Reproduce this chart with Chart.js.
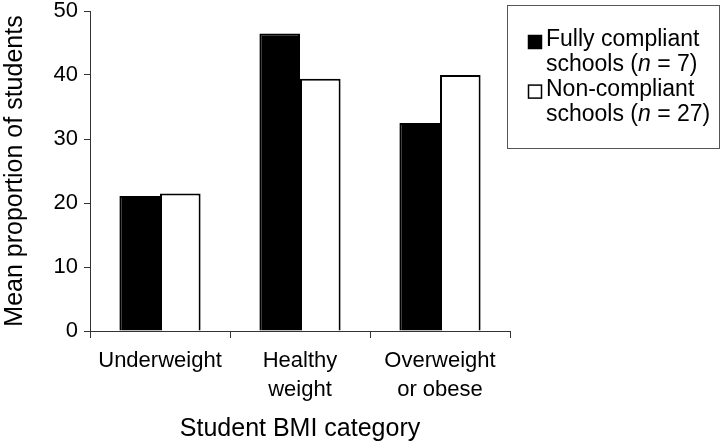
<!DOCTYPE html>
<html>
<head>
<meta charset="utf-8">
<script src="https://cdn.jsdelivr.net/npm/chart.js@4/dist/chart.umd.min.js"></script>
<style>
html,body{margin:0;padding:0;background:#fff;}
#wrap{position:relative;width:722px;height:445px;}
</style>
</head>
<body>
<div id="wrap"><canvas id="c" width="722" height="445"></canvas></div>
<script>
const categories = [["Underweight"], ["Healthy", "weight"], ["Overweight", "or obese"]];
const fullyCompliant = [21.1, 46.5, 32.5];
const nonCompliant = [21.5, 39.4, 40.0];
const seriesNames = [["Fully compliant", ["schools (", "n", " = 7)"]], ["Non-compliant", ["schools (", "n", " = 27)"]]];
const yTicks = [0, 10, 20, 30, 40, 50];

const FONT = "'Liberation Sans', Arial, sans-serif";
const FS = 22;
const FT = 25;
const FL = 23;

const legendBox = {
  id: 'legendBox',
  afterDraw(chart) {
    const ctx = chart.ctx;
    ctx.save();
    ctx.strokeStyle = '#555';
    ctx.lineWidth = 1;
    ctx.strokeRect(507.5, 5.5, 212, 143);
    const fills = ['#000', '#fff'];
    const x0 = 528, tx = 546;
    const lineH = 24.8;
    let y = 40;
    ctx.textBaseline = 'middle';
    seriesNames.forEach((s, i) => {
      ctx.fillStyle = fills[i];
      ctx.fillRect(x0 + 0.5, y - 4.5, 13, 13);
      ctx.strokeStyle = '#000';
      ctx.lineWidth = 1.5;
      ctx.strokeRect(x0 + 0.5, y - 4.5, 13, 13);
      ctx.fillStyle = '#000';
      ctx.font = FL + 'px ' + FONT;
      ctx.fillText(s[0], tx, y);
      y += lineH;
      let x = tx;
      s[1].forEach((part, j) => {
        ctx.font = (j === 1 ? 'italic ' : '') + FL + 'px ' + FONT;
        ctx.fillText(part, x, y);
        x += ctx.measureText(part).width;
      });
      y += lineH;
    });
    ctx.restore();
  }
};

new Chart(document.getElementById('c'), {
  type: 'bar',
  data: {
    labels: categories,
    datasets: [
      { label: 'Fully compliant schools (n = 7)', data: fullyCompliant, backgroundColor: '#000', borderColor: '#000', borderWidth: 2 },
      { label: 'Non-compliant schools (n = 27)', data: nonCompliant, backgroundColor: '#fff', borderColor: '#000', borderWidth: 2 }
    ]
  },
  options: {
    responsive: false,
    animation: false,
    devicePixelRatio: 1,
    layout: { padding: { left: 0, right: 212, top: 0, bottom: 0 } },
    plugins: { legend: { display: false }, tooltip: { enabled: false } },
    datasets: { bar: { barPercentage: 1.0, categoryPercentage: 0.58 } },
    scales: {
      x: {
        afterFit(axis) { axis.height = 114; },
        grid: { display: true, drawOnChartArea: false, drawTicks: true, tickLength: 7, color: '#333', offset: true },
        border: { display: true, color: '#333', width: 1 },
        ticks: { color: '#000', font: { family: FONT, size: FS, lineHeight: 1.32 }, padding: 8, maxRotation: 0, autoSkip: false },
        title: { display: true, text: 'Student BMI category', color: '#000', font: { family: FONT, size: FT }, padding: { top: 4, bottom: 1 } }
      },
      y: {
        min: 0, max: 50,
        afterFit(axis) { axis.width = 90; axis.paddingTop = 11; },
        afterBuildTicks(axis) { axis.ticks = yTicks.map(v => ({ value: v })); },
        grid: { display: true, drawOnChartArea: false, drawTicks: true, tickLength: 6, color: '#333' },
        border: { display: true, color: '#333', width: 1 },
        ticks: { color: '#000', font: { family: FONT, size: FS }, padding: 6 },
        title: { display: true, text: 'Mean proportion of students', color: '#000', font: { family: FONT, size: FT }, padding: { top: 0, bottom: 2 } }
      }
    }
  },
  plugins: [legendBox]
});
</script>
</body>
</html>
